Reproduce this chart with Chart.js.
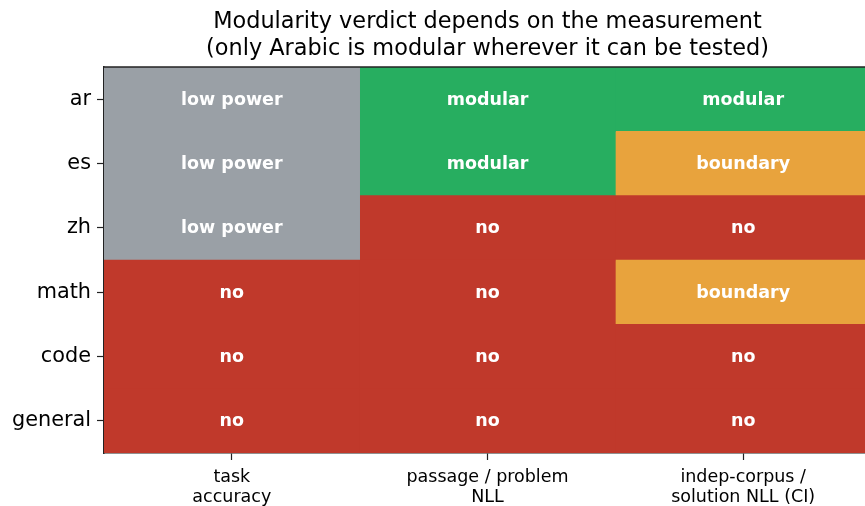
<!DOCTYPE html>
<html>
<head>
<meta charset="utf-8">
<script src="https://cdn.jsdelivr.net/npm/chart.js@4.4.1/dist/chart.umd.min.js"></script>
<style>
html,body{margin:0;padding:0;background:#fff;overflow:hidden;}
#wrap{width:871px;height:506px;}
</style>
</head>
<body>
<div id="wrap"><canvas id="c" width="871" height="506"></canvas></div>
<script>
const rows = ['ar', 'es', 'zh', 'math', 'code', 'general'];
const columns = [['task', 'accuracy'], ['passage / problem', 'NLL'], ['indep-corpus /', 'solution NLL (CI)']];
const taskAccuracy = ['low power', 'low power', 'low power', 'no', 'no', 'no'];
const passageNLL = ['modular', 'modular', 'no', 'no', 'no', 'no'];
const indepNLL = ['modular', 'boundary', 'no', 'boundary', 'no', 'no'];
const verdicts = [taskAccuracy, passageNLL, indepNLL];
const titleLines = ['Modularity verdict depends on the measurement', '(only Arabic is modular wherever it can be tested)'];

const colorMap = {
  'low power': '#9aa0a6',
  'modular': '#27ae60',
  'no': '#c0392b',
  'boundary': '#e8a33d'
};

const datasets = verdicts.map((col, c) => ({
  label: columns[c].join(' '),
  data: rows.map(() => [c - 0.5, c + 0.5]),
  backgroundColor: ctx => colorMap[col[ctx.dataIndex]],
  borderWidth: 0,
  barPercentage: 1,
  categoryPercentage: 1,
  grouped: false
}));

const cellText = {
  id: 'cellText',
  afterDatasetsDraw(chart) {
    const ctx = chart.ctx;
    const xs = chart.scales.x, ys = chart.scales.y;
    ctx.save();
    ctx.fillStyle = '#ffffff';
    ctx.font = 'bold 17.5px "DejaVu Sans"';
    ctx.textAlign = 'center';
    ctx.textBaseline = 'middle';
    verdicts.forEach((col, c) => {
      col.forEach((v, r) => {
        ctx.fillText(v, xs.getPixelForValue(c), ys.getPixelForValue(r) + 1);
      });
    });
    ctx.restore();
  },
  afterDraw(chart) {
    const ctx = chart.ctx;
    const a = chart.chartArea;
    ctx.save();
    ctx.strokeStyle = '#222';
    ctx.lineWidth = 1.5;
    ctx.beginPath();
    ctx.moveTo(a.left, a.top);
    ctx.lineTo(a.right, a.top);
    ctx.stroke();
    ctx.restore();
  }
};

new Chart(document.getElementById('c'), {
  type: 'bar',
  data: { labels: rows, datasets },
  plugins: [cellText],
  options: {
    responsive: false,
    animation: false,
    indexAxis: 'y',
    layout: { padding: { left: 0, right: 0, top: 0, bottom: 0 } },
    plugins: {
      legend: { display: false },
      tooltip: { enabled: false },
      title: {
        display: true,
        text: titleLines,
        fullSize: false,
        color: '#000',
        font: { family: 'DejaVu Sans', size: 22.4, weight: 'normal', lineHeight: '27px' },
        padding: { top: 9, bottom: 4 }
      }
    },
    scales: {
      x: {
        type: 'linear',
        min: -0.5,
        max: 2.5,
        z: 1,
        afterBuildTicks: s => { s.ticks = [0, 1, 2].map(v => ({ value: v })); },
        afterFit: s => { s.height = 53; },
        ticks: {
          color: '#000',
          font: { family: 'DejaVu Sans', size: 17.5, lineHeight: '20px' },
          padding: 7,
          maxRotation: 0,
          autoSkip: false,
          callback: v => columns[v]
        },
        grid: { drawOnChartArea: false, drawTicks: true, tickLength: 7, color: '#222', tickWidth: 1.2 },
        border: { display: true, color: '#222', width: 1.5 }
      },
      y: {
        type: 'category',
        z: 1,
        afterFit: s => { s.width = 104; },
        ticks: {
          color: '#000',
          font: { family: 'DejaVu Sans', size: 20.8 },
          padding: 6
        },
        grid: { offset: false, drawOnChartArea: false, drawTicks: true, tickLength: 7, color: '#222', tickWidth: 1.2 },
        border: { display: true, color: '#222', width: 1.5 }
      }
    }
  }
});
</script>
</body>
</html>
